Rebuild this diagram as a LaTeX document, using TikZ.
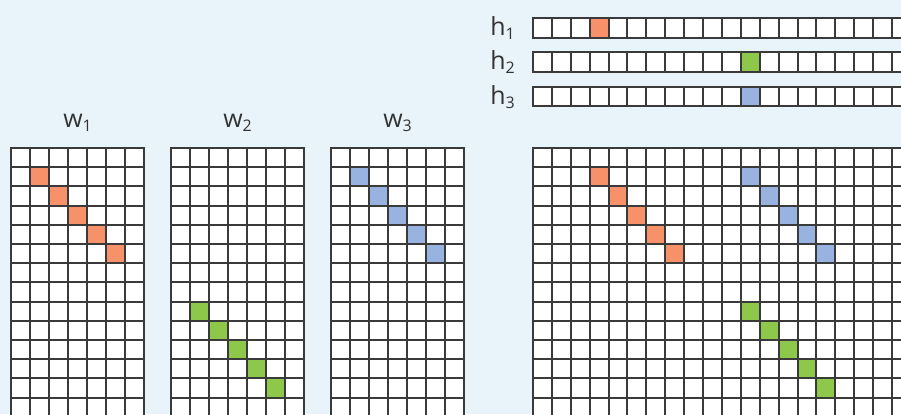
\documentclass[tikz,border=0pt]{standalone}
\usepackage{fontspec}
\setmainfont{Open Sans}
\definecolor{bgblue}{HTML}{E8F3FA}
\definecolor{gridgray}{HTML}{3A3A3A}
\definecolor{labelgray}{HTML}{333333}
\definecolor{orangecell}{HTML}{F7916A}
\definecolor{greencell}{HTML}{8DC84B}
\definecolor{bluecell}{HTML}{98B3E0}
\tikzset{
  gridline/.style={line width=2bp,color=gridgray,line cap=rect},
  veclbl/.style={text=labelgray,font=\fontsize{25}{25}\selectfont,inner sep=0pt}
}
\newcommand{\idx}[1]{\raisebox{-4.5pt}{\fontsize{16}{16}\selectfont #1}}

\begin{document}
\begin{tikzpicture}[x=1bp,y=-1bp]
	% Dimensions des cases (positions arrondies au pixel)
	\def\cw{19} \def\ch{19.2} \def\gy{148}
	\def\bx{533} \def\bw{18.9}
	\fill[bgblue] (0,0) rectangle (901,414);
	\clip (0,0) rectangle (901,414);
%
% Grilles des poids w1, w2, w3
	\foreach \gx in {11,171,331}{
		\fill[white] (\gx,\gy) rectangle ++(7*\cw,15*\ch);
	};
	\foreach \k in {1,...,5}{
		\fill[orangecell] ({11+\k*\cw},{\gy+round(\k*\ch)}) rectangle ++(\cw,\ch);
		\fill[greencell] ({171+\k*\cw},{\gy+round((\k+7)*\ch)}) rectangle ++(\cw,\ch);
		\fill[bluecell] ({331+\k*\cw},{\gy+round(\k*\ch)}) rectangle ++(\cw,\ch);
	};
	\foreach \gx in {11,171,331}{
		\foreach \i in {0,...,7} {\draw[gridline] ({\gx+\i*\cw},\gy) -- ++(0,15*\ch);};
		\foreach \j in {0,...,14} {\draw[gridline] (\gx,{\gy+round(\j*\ch)}) -- ++(7*\cw,0);};
	};
%
% Vecteurs h1, h2, h3
	\foreach \ht/\hb in {18/38,52/72,87/106}{
		\fill[white] (\bx,\ht) rectangle ({\bx+20*\bw},\hb);
	};
	\fill[orangecell] ({\bx+round(3*\bw)},18) rectangle ({\bx+round(4*\bw)},38);
	\fill[greencell] ({\bx+round(11*\bw)},52) rectangle ({\bx+round(12*\bw)},72);
	\fill[bluecell] ({\bx+round(11*\bw)},87) rectangle ({\bx+round(12*\bw)},106);
	\foreach \ht/\hb in {18/38,52/72,87/106}{
		\foreach \i in {0,...,20} {\draw[gridline] ({\bx+round(\i*\bw)},\ht) -- ({\bx+round(\i*\bw)},\hb);};
		\draw[gridline] (\bx,\ht) -- ++(20*\bw,0);
		\draw[gridline] (\bx,\hb) -- ++(20*\bw,0);
	};
%
% Grande grille
	\fill[white] (\bx,\gy) rectangle ++(20*\bw,15*\ch);
	\foreach \k in {1,...,5}{
		\fill[orangecell] ({\bx+round((\k+2)*\bw)},{\gy+round(\k*\ch)}) rectangle ++(\bw,\ch);
		\fill[bluecell] ({\bx+round((\k+10)*\bw)},{\gy+round(\k*\ch)}) rectangle ++(\bw,\ch);
		\fill[greencell] ({\bx+round((\k+10)*\bw)},{\gy+round((\k+7)*\ch)}) rectangle ++(\bw,\ch);
	};
	\foreach \i in {0,...,20} {\draw[gridline] ({\bx+round(\i*\bw)},\gy) -- ++(0,15*\ch);};
	\foreach \j in {0,...,14} {\draw[gridline] (\bx,{\gy+round(\j*\ch)}) -- ++(20*\bw,0);};
%
% Légendes
	\node[veclbl,anchor=base] (w1) at (77.5,127.3) {w\idx{1}};
	\node[veclbl,anchor=base] (w2) at (237.5,127.3) {w\idx{2}};
	\node[veclbl,anchor=base] (w3) at (397.5,127.3) {w\idx{3}};
	\node[veclbl,anchor=base east] (h1) at (515,35) {h\idx{1}};
	\node[veclbl,anchor=base east] (h2) at (515,69.5) {h\idx{2}};
	\node[veclbl,anchor=base east] (h3) at (515,104) {h\idx{3}};

\end{tikzpicture}
\end{document}
